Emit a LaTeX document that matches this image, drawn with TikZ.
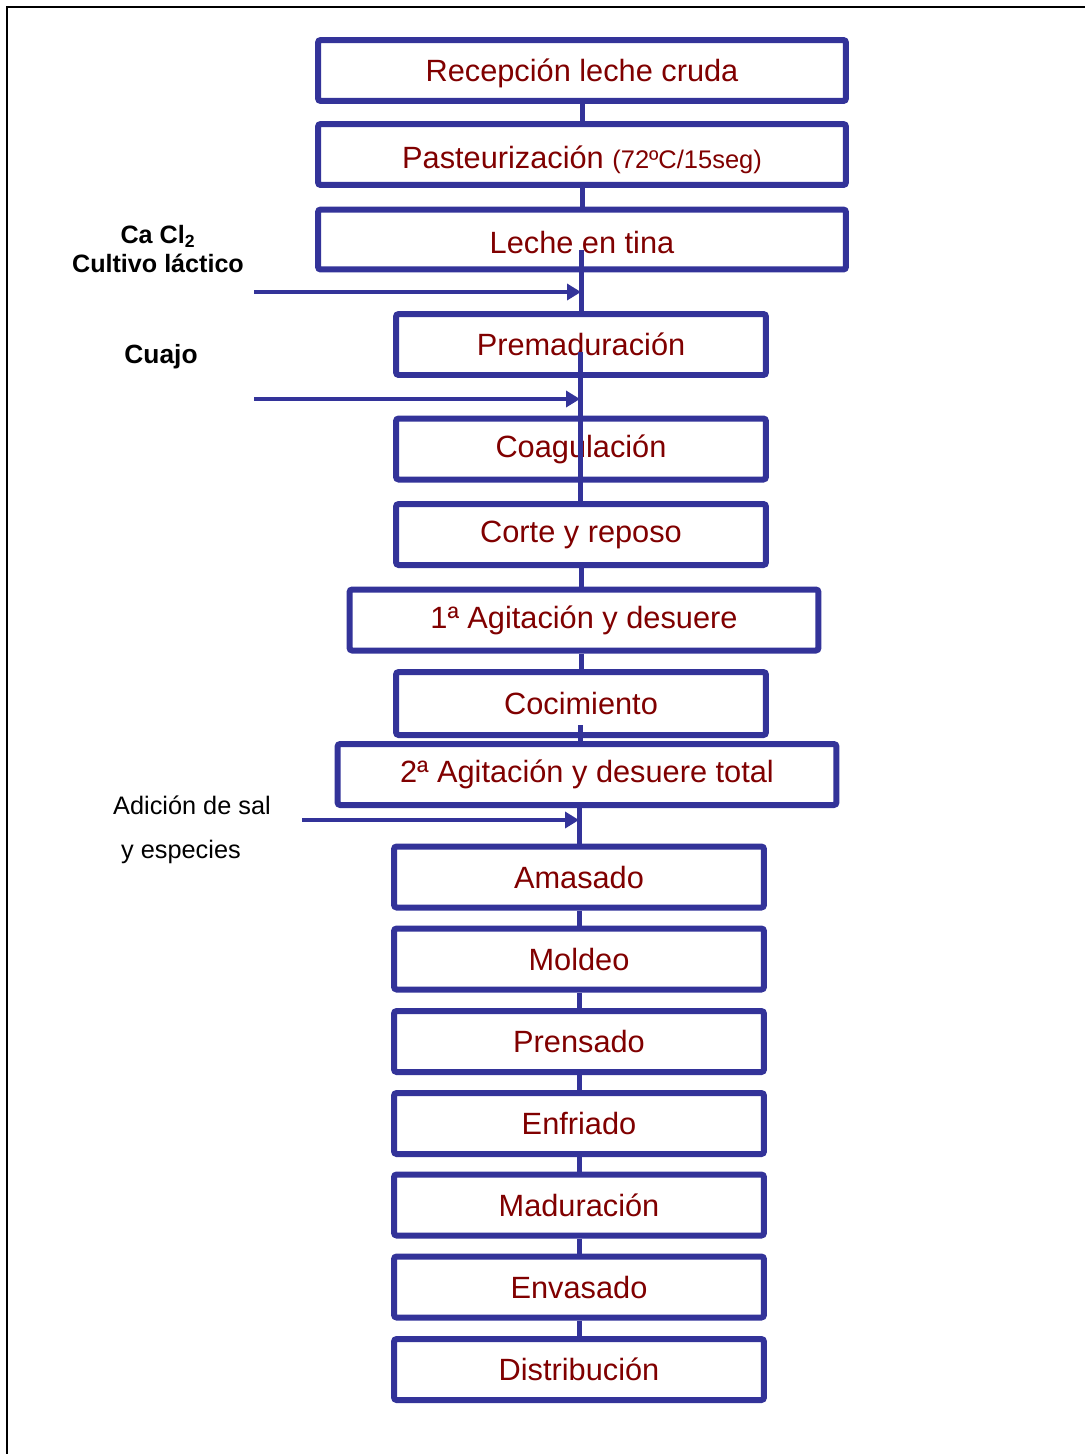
\documentclass[tikz,border=0pt]{standalone}
\usepackage{fontspec}
\setmainfont{Liberation Sans}
\usetikzlibrary{arrows.meta}

\definecolor{azul}{RGB}{51,51,153}
\definecolor{granate}{RGB}{128,0,0}

\begin{document}
\begin{tikzpicture}[
    x=0.02cm, y=-0.02cm,
    etapa/.style={draw=azul, line width=0.12cm, rounded corners=1.5pt, text=granate,
        font=\fontsize{17.5}{20}\selectfont, inner sep=0pt,
        minimum width=7.4cm, minimum height=1.22cm},
    ancha/.style={minimum width=10.56cm, text height=16.2pt, text depth=0.4pt},
    flujo/.style={azul, line width=0.1cm},
    aporte/.style={azul, line width=0.08cm, -{Triangle[length=0.28cm, width=0.32cm]}},
    insumo/.style={font=\bfseries\fontsize{14.3}{16}\selectfont},
    aditivo/.style={font=\fontsize{14.4}{16}\selectfont},
]
\useasboundingbox (0,0) rectangle (1085,1454);

% =============================================================================
% Marco
% =============================================================================
\draw[line width=0.04cm] (7,1454) -- (7,7) -- (1085,7);

% =============================================================================
% Etapas del proceso
% =============================================================================
\node[etapa, ancha, text height=13.2pt] (n1) at (582,70.5) {Recepción leche cruda};
\node[etapa, ancha] (n2) at (582,154.5)
    {Pasteurización {\fontsize{14.5}{16}\selectfont(72ºC/15seg)}};
\node[etapa, ancha, minimum height=1.2cm] (n3) at (582,239.5) {Leche en tina};
\node[etapa] (n4) at (581,344.5) {Premaduración};
\node[etapa] (n5) at (581,449) {Coagulación};
\node[etapa] (n6) at (581,534.5) {Corte y reposo};
\node[etapa, minimum width=9.38cm] (n7) at (584,620) {1ª Agitación y desuere};
\node[etapa, minimum height=1.26cm] (n8) at (581,703.5) {Cocimiento};
\node[etapa, minimum width=9.98cm] (n9) at (587,774.5) {2ª Agitación y desuere total};
\node[etapa] (n10) at (579,877) {Amasado};
\node[etapa] (n11) at (579,959) {Moldeo};
\node[etapa] (n12) at (579,1041.5) {Prensado};
\node[etapa] (n13) at (579,1123.5) {Enfriado};
\node[etapa] (n14) at (579,1205) {Maduración};
\node[etapa] (n15) at (579,1287) {Envasado};
\node[etapa] (n16) at (579,1369.5) {Distribución};

% --- Uniones entre etapas ---
\draw[flujo] (n1.south) -- (n1.south |- n2.north);
\draw[flujo] (n2.south) -- (n2.south |- n3.north);
\coordinate (en3) at (581,250);
\draw[flujo] (en3) -- (en3 |- n4.north);
\coordinate (en4) at (580,352);
\draw[flujo] (en4) -- (en4 |- n6.north);
\draw[flujo] (n6.south) -- (n6.south |- n7.north);
\draw[flujo] (n8.north |- n7.south) -- (n8.north);
\coordinate (en8) at (580,725);
\draw[flujo] (en8) -- (en8 |- n9.north);
\draw[flujo] (n10.north |- n9.south) -- (n10.north);
\foreach \a/\b in {10/11, 11/12, 12/13, 13/14, 14/15, 15/16} {
    \draw[flujo] (n\a.south) -- (n\b.north);
}

% =============================================================================
% Insumos añadidos
% =============================================================================
\node[insumo] (cacl) at (158,236) {Ca Cl\textsubscript{2}};
\node[insumo] (cultivo) at (158,263) {Cultivo láctico};
\coordinate (ca) at (254,292);
\draw[aporte] (ca) -- (ca -| en3);

\node[insumo, font=\bfseries\fontsize{15}{17}\selectfont] (cuajo) at (161,357) {Cuajo};
\coordinate (cj) at (254,399);
\draw[aporte] (cj) -- (cj -| en4);

\node[aditivo] (sal1) at (192,805) {Adición de sal};
\node[aditivo] (sal2) at (181,852) {y especies};
\coordinate (sl) at (302,820);
\draw[aporte] (sl) -- (sl -| n10.north);

\end{tikzpicture}
\end{document}
